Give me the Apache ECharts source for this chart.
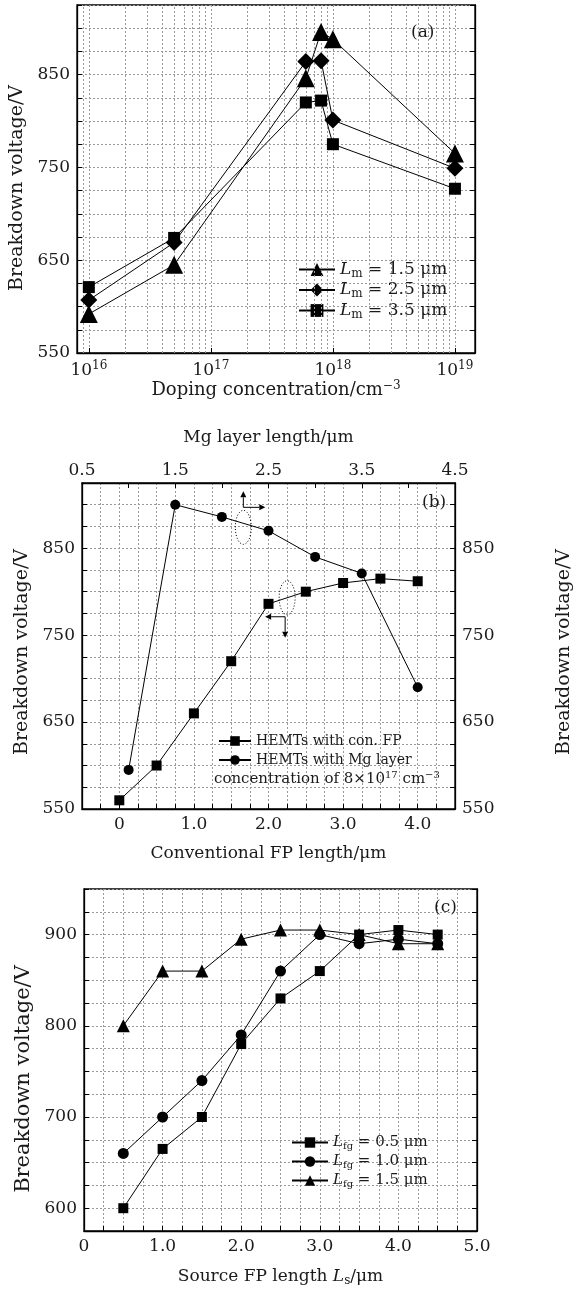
<!DOCTYPE html>
<html>
<head>
<meta charset="utf-8">
<script src="https://cdn.jsdelivr.net/npm/echarts@6/dist/echarts.min.js"></script>
<style>
  html, body { margin: 0; padding: 0; background: #fff; }
  #chart { width: 576px; height: 1290px; }
</style>
</head>
<body>
<div id="chart"></div>
<script>
// (a) breakdown voltage vs Mg doping concentration
const dopingConc = [1e16, 5e16, 6e17, 8e17, 1e18, 1e19];
const aLm15 = [592, 645, 846, 896, 888, 765];
const aLm25 = [607, 669, 864, 865, 801, 749];
const aLm35 = [621, 674, 820, 822, 775, 727];
// minor log grid: 2..9 x 10^k
const logMinor = [2, 3, 4, 5, 6, 7, 8, 9];
const logDecades = [15, 16, 17, 18];

// (b) conventional FP (bottom axis) and Mg layer length (top axis)
const conFpLength = [0, 0.5, 1.0, 1.5, 2.0, 2.5, 3.0, 3.5, 4.0];
const conFpVoltage = [560, 600, 660, 720, 786, 800, 810, 815, 812];
const mgLength = [1.0, 1.5, 2.0, 2.5, 3.0, 3.5, 4.1];
const mgVoltage = [595, 900, 886, 870, 840, 821, 690];

// (c) source FP length
const sourceFp = [0.5, 1.0, 1.5, 2.0, 2.5, 3.0, 3.5, 4.0, 4.5];
const cLfg05 = [600, 665, 700, 780, 830, 860, 900, 905, 900];
const cLfg10 = [660, 700, 740, 790, 860, 900, 890, 895, 890];
const cLfg15 = [800, 860, 860, 895, 905, 905, 900, 890, 890];

const FONT = 'DejaVu Serif';
const TICK = 17;
const INK = '#1a1a1a';

const pair = (xs, ys) => xs.map((x, i) => [x, ys[i]]);

const gridLine = { show: true, lineStyle: { color: '#9a9a9a', type: [2, 2], width: 1 } };
const axisLine = { show: true, onZero: false, lineStyle: { color: '#000', width: 1.3 } };
const tickIn = { show: true, inside: true, length: 5, lineStyle: { color: '#000' } };
const labelStyle = { color: INK, fontFamily: FONT, fontSize: TICK };

function richFor(size) {
  return {
    t: { fontFamily: FONT, fontSize: size, color: INK },
    i: { fontFamily: FONT, fontSize: size, fontStyle: 'italic', color: INK },
    sup: { fontFamily: FONT, fontSize: Math.round(size * 0.68), color: INK, verticalAlign: 'top', padding: [0, 0, Math.round(size * 0.5), 0] },
    sub: { fontFamily: FONT, fontSize: Math.round(size * 0.68), color: INK, verticalAlign: 'bottom', padding: [Math.round(size * 0.45), 0, 0, 0] }
  };
}

function nameStyle(size, padding) {
  return { color: INK, fontFamily: FONT, fontSize: size, rich: richFor(size), padding: padding || 0 };
}

function vAxisLabels(step, base) {
  return (v) => ((v - base) % step === 0 ? String(v) : '');
}

const intLabel = (v) => (Math.abs(v - Math.round(v)) < 1e-9 ? (v === 0 ? '0' : v.toFixed(1)) : '');

// plain right-hand frame axis carrying only inward ticks
function tickOnlyY(gridIndex, min, max) {
  return {
    gridIndex, type: 'value', position: 'right', min, max, interval: 25,
    axisLine, axisTick: tickIn, splitLine: { show: false }, axisLabel: { show: false }
  };
}

function lineSeries(name, data, symbol, size, xi, yi) {
  return {
    name, type: 'line', data, symbol, symbolSize: size,
    xAxisIndex: xi, yAxisIndex: yi,
    itemStyle: { color: '#000' },
    lineStyle: { color: '#000', width: 1 },
    emphasis: { disabled: true },
    animation: false, z: 5
  };
}

const minorLines = [];
logDecades.forEach((k) => logMinor.forEach((m) => {
  const v = m * Math.pow(10, k);
  if (v > 8e15 && v < 1.46e19) minorLines.push({ xAxis: v });
}));

const legendA = { 'Lm=1.5': '1.5', 'Lm=2.5': '2.5', 'Lm=3.5': '3.5' };
const legendC = { 'Lfg=0.5': '0.5', 'Lfg=1.0': '1.0', 'Lfg=1.5': '1.5' };

const chart = echarts.init(document.getElementById('chart'), null, { renderer: 'canvas' });

const gridBase = { show: true, borderColor: '#000', borderWidth: 1.3, outerBoundsMode: 'none', containLabel: false };

const option = {
  backgroundColor: '#fff',
  animation: false,
  grid: [
    { ...gridBase, left: 77, top: 5, width: 398, height: 348 },
    { ...gridBase, left: 82, top: 483, width: 373, height: 326 },
    { ...gridBase, left: 84, top: 889, width: 393, height: 342 }
  ],
  xAxis: [
    {
      gridIndex: 0, type: 'log', logBase: 10, min: 8e15, max: 1.46e19,
      axisLine, axisTick: tickIn, splitLine: gridLine,
      axisLabel: {
        ...labelStyle, margin: 7,
        formatter: (v) => {
          const p = Math.log10(v);
          return Math.abs(p - Math.round(p)) < 1e-6 ? '{t|10}{sup|' + Math.round(p) + '}' : '';
        },
        rich: {
          t: { fontFamily: FONT, fontSize: TICK, color: INK },
          sup: { fontFamily: FONT, fontSize: 12, color: INK, verticalAlign: 'top', padding: [0, 0, 9, 0] }
        }
      },
      name: '{t|Doping concentration/cm}{sup|−3}', nameLocation: 'middle', nameGap: 23,
      nameTextStyle: nameStyle(18)
    },
    {
      gridIndex: 1, type: 'value', min: -0.5, max: 4.5, interval: 0.25,
      axisLine, axisTick: tickIn, splitLine: gridLine,
      axisLabel: { ...labelStyle, margin: 7, formatter: intLabel },
      name: 'Conventional FP length/μm', nameLocation: 'middle', nameGap: 36,
      nameTextStyle: nameStyle(17)
    },
    {
      gridIndex: 1, type: 'value', position: 'top', min: 0.5, max: 4.5, interval: 0.5,
      axisLine, axisTick: tickIn, splitLine: { show: false },
      axisLabel: {
        ...labelStyle, margin: 4,
        formatter: (v) => (Math.round(v * 2) % 2 === 1 ? v.toFixed(1) : '')
      },
      name: 'Mg layer length/μm', nameLocation: 'middle', nameGap: 37,
      nameTextStyle: nameStyle(17)
    },
    {
      gridIndex: 2, type: 'value', min: 0, max: 5, interval: 0.25,
      axisLine, axisTick: tickIn, splitLine: gridLine,
      axisLabel: { ...labelStyle, margin: 7, formatter: intLabel },
      name: '{t|Source FP length }{i|L}{sub|s}{t|/μm}', nameLocation: 'middle', nameGap: 36,
      nameTextStyle: nameStyle(17)
    }
  ],
  yAxis: [
    {
      gridIndex: 0, type: 'value', min: 550, max: 925, interval: 25,
      axisLine, axisTick: tickIn, splitLine: gridLine,
      axisLabel: { ...labelStyle, margin: 7, formatter: vAxisLabels(100, 550) },
      name: 'Breakdown voltage/V', nameLocation: 'middle', nameGap: 50, nameRotate: 90,
      nameTextStyle: nameStyle(19, [0, 18, 0, 0])
    },
    {
      gridIndex: 1, type: 'value', min: 550, max: 925, interval: 25,
      axisLine, axisTick: tickIn, splitLine: gridLine,
      axisLabel: { ...labelStyle, margin: 7, formatter: vAxisLabels(100, 550) },
      name: 'Breakdown voltage/V', nameLocation: 'middle', nameGap: 50, nameRotate: 90,
      nameTextStyle: nameStyle(19, [0, 12, 0, 0])
    },
    {
      gridIndex: 1, type: 'value', position: 'right', min: 550, max: 925, interval: 25,
      axisLine, axisTick: tickIn, splitLine: { show: false },
      axisLabel: { ...labelStyle, margin: 7, formatter: vAxisLabels(100, 550) },
      name: 'Breakdown voltage/V', nameLocation: 'middle', nameGap: 100, nameRotate: 90,
      nameTextStyle: nameStyle(19, [0, 12, 0, 0])
    },
    {
      gridIndex: 2, type: 'value', min: 575, max: 950, interval: 25,
      axisLine, axisTick: tickIn, splitLine: gridLine,
      axisLabel: { ...labelStyle, margin: 7, formatter: vAxisLabels(100, 0) },
      name: 'Breakdown voltage/V', nameLocation: 'middle', nameGap: 50, nameRotate: 90,
      nameTextStyle: nameStyle(21, [0, 38, 0, 0])
    },
    tickOnlyY(0, 550, 925),
    tickOnlyY(2, 575, 950)
  ],
  legend: [
    {
      data: ['Lm=1.5', 'Lm=2.5', 'Lm=3.5'], orient: 'vertical', left: 293, top: 256,
      itemWidth: 36, itemHeight: 16, itemGap: 2,
      formatter: (n) => '{i|L}{sub|m}{t| = ' + legendA[n] + ' μm}',
      textStyle: { rich: richFor(17) }
    },
    {
      data: ['con', 'mg'], orient: 'vertical', left: 213, top: 729,
      itemWidth: 32, itemHeight: 12, itemGap: 5,
      formatter: (n) => (n === 'con' ? 'HEMTs with con. FP' : 'HEMTs with Mg layer'),
      textStyle: { fontFamily: FONT, fontSize: 14, color: INK }
    },
    {
      data: ['Lfg=0.5', 'Lfg=1.0', 'Lfg=1.5'], orient: 'vertical', left: 286, top: 1130,
      itemWidth: 36, itemHeight: 13, itemGap: 3,
      formatter: (n) => '{i|L}{sub|fg}{t| = ' + legendC[n] + ' μm}',
      textStyle: { rich: richFor(15) }
    }
  ],
  series: [
    {
      type: 'line', data: [], xAxisIndex: 0, yAxisIndex: 0, z: 1, silent: true,
      markLine: { silent: true, symbol: 'none', label: { show: false }, animation: false,
        lineStyle: { color: '#9a9a9a', type: [2, 2], width: 1 }, data: minorLines }
    },
    lineSeries('Lm=1.5', pair(dopingConc, aLm15), 'triangle', 18, 0, 0),
    lineSeries('Lm=2.5', pair(dopingConc, aLm25), 'diamond', 17, 0, 0),
    lineSeries('Lm=3.5', pair(dopingConc, aLm35), 'rect', 12, 0, 0),
    lineSeries('con', pair(conFpLength, conFpVoltage), 'rect', 10, 1, 1),
    lineSeries('mg', pair(mgLength, mgVoltage), 'circle', 10, 2, 2),
    lineSeries('Lfg=0.5', pair(sourceFp, cLfg05), 'rect', 10, 3, 3),
    lineSeries('Lfg=1.0', pair(sourceFp, cLfg10), 'circle', 11, 3, 3),
    lineSeries('Lfg=1.5', pair(sourceFp, cLfg15), 'triangle', 13, 3, 3)
  ]
};

chart.setOption(option);

// panel tags, legend footnote and the dotted ellipse/arrow annotations of (b)
function arrow(x1, y1, x2, y2) {
  const ang = Math.atan2(y2 - y1, x2 - x1);
  const h = 6, w = 3;
  const bx = x2 - h * Math.cos(ang), by = y2 - h * Math.sin(ang);
  const px = -Math.sin(ang) * w, py = Math.cos(ang) * w;
  return [
    { type: 'line', shape: { x1, y1, x2: bx, y2: by }, style: { stroke: '#000', lineWidth: 1 } },
    { type: 'polygon', shape: { points: [[x2, y2], [bx + px, by + py], [bx - px, by - py]] }, style: { fill: '#000' } }
  ];
}

const e1 = chart.convertToPixel({ xAxisIndex: 2, yAxisIndex: 2 }, [2.23, 874]);
const e2 = chart.convertToPixel({ xAxisIndex: 1, yAxisIndex: 1 }, [2.25, 793]);

const tagStyle = { fill: INK, fontFamily: FONT, fontSize: 17 };
const footRich = richFor(15);

chart.setOption({
  graphic: [
    { type: 'text', left: 411, top: 24, style: { ...tagStyle, text: '(a)' } },
    { type: 'text', left: 422, top: 494, style: { ...tagStyle, text: '(b)' } },
    { type: 'text', left: 434, top: 899, style: { ...tagStyle, text: '(c)' } },
    {
      type: 'text', left: 214, top: 770,
      style: {
        text: '{t|concentration of 8×10}{sup|17}{t| cm}{sup|−3}',
        rich: {
          t: { ...footRich.t, fill: INK },
          sup: { ...footRich.sup, fill: INK }
        }
      }
    },
    { type: 'ellipse', shape: { cx: e1[0], cy: e1[1], rx: 8, ry: 17 }, style: { fill: 'none', stroke: '#000', lineWidth: 1, lineDash: [1, 2] } },
    { type: 'ellipse', shape: { cx: e2[0], cy: e2[1], rx: 8, ry: 17 }, style: { fill: 'none', stroke: '#000', lineWidth: 1, lineDash: [1, 2] } },
    ...arrow(e1[0], e1[1] - 20, e1[0], e1[1] - 36),
    ...arrow(e1[0], e1[1] - 20, e1[0] + 22, e1[1] - 20),
    ...arrow(e2[0] - 2, e2[1] + 19, e2[0] - 22, e2[1] + 19),
    ...arrow(e2[0] - 2, e2[1] + 19, e2[0] - 2, e2[1] + 40)
  ].map((g) => ({ ...g, z: 10 }))
});
</script>
</body>
</html>
